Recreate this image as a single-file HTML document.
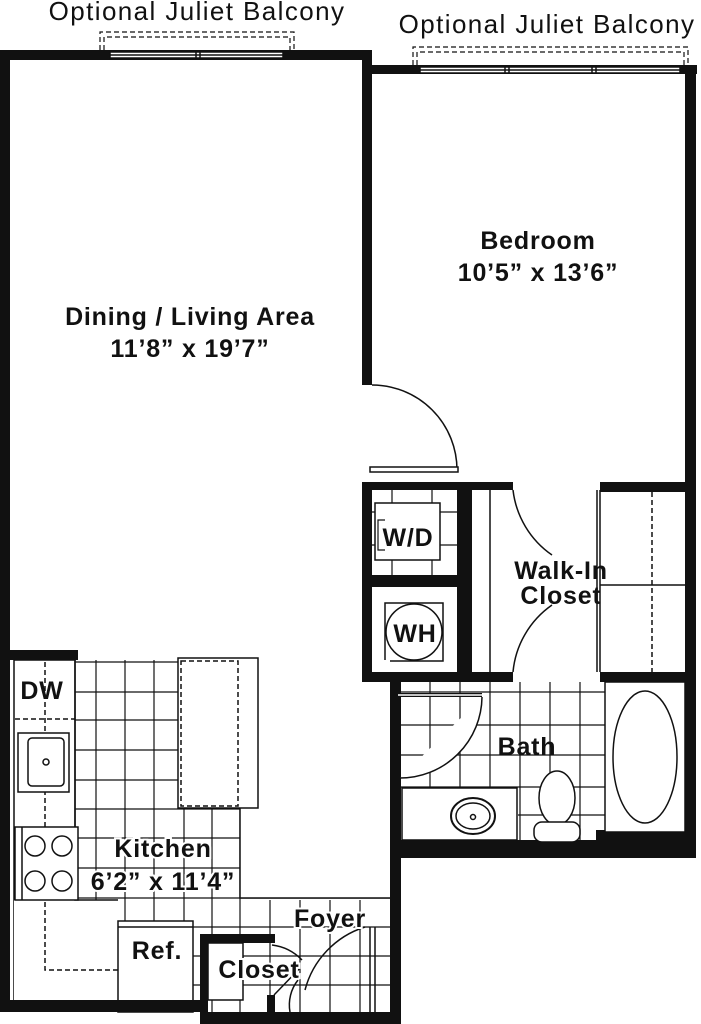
<!DOCTYPE html>
<html><head><meta charset="utf-8"><style>
html,body{margin:0;padding:0;background:#fff}
svg{display:block}
text{font-family:"Liberation Sans",sans-serif;fill:#111}
.l{font-weight:bold;font-size:25px;text-anchor:middle;letter-spacing:0.8px}
.t{font-size:26px;text-anchor:middle;letter-spacing:1.4px}
</style></head><body>
<svg width="701" height="1024" viewBox="0 0 701 1024" xmlns="http://www.w3.org/2000/svg">
<g fill="none" stroke="#111" stroke-width="1.5">
<g stroke-width="1.2">
<path d="M372 512 H457 M372 545 H457 M392 490 V575 M432 490 V575"/>
</g>
<rect x="375" y="503" width="65" height="57" fill="#fff"/>
<path d="M385 520 H378 V550 H385" stroke-width="1.2"/>
<rect x="385" y="603" width="58" height="58"/>
<circle cx="414" cy="632" r="28"/>
</g>
<g fill="none" stroke="#111" stroke-width="1.5">
<!-- kitchen tiles -->
<g stroke-width="1.2">
<path d="M75 662 H178 M75 692 H178 M75 720 H178 M75 750 H178 M75 780 H178 M75 809 H240 M75 838 H240 M75 868 H240 M75 898 H390 M75 927 H390 M75 956 H390 M75 985 H390"/>
<path d="M96 660 V1000 M125 660 V1000 M154 660 V1000 M184 808 V1012 M212 808 V1012 M240 808 V1012 M270 900 V1012 M300 900 V1012 M330 900 V1012 M360 900 V1012"/>
</g>
<rect x="240" y="660" width="150" height="238" fill="#fff" stroke="none"/>
<path d="M240 808 V898 H390"/>
<rect x="178" y="658" width="80" height="150" fill="#fff"/>
<rect x="181" y="661" width="57" height="145" stroke-dasharray="5,3"/>
<rect x="14" y="660" width="61" height="340" fill="#fff"/>
<rect x="14" y="900" width="104" height="100" fill="#fff" stroke="none"/>
<path d="M75 660 V900 H118"/>
<path d="M45 662 V970 H193 M15 719 H75" stroke-dasharray="5,3"/>
<rect x="18" y="733" width="51" height="59" fill="#fff"/>
<rect x="28" y="738" width="36" height="48" rx="4"/>
<circle cx="46" cy="762" r="3"/>
<rect x="15" y="827" width="63" height="73" fill="#fff"/>
<line x1="22" y1="827" x2="22" y2="900"/>
<circle cx="35" cy="846" r="10"/><circle cx="62" cy="846" r="10"/><circle cx="35" cy="881" r="10"/><circle cx="62" cy="881" r="10"/>
<rect x="118" y="921" width="75" height="91" fill="#fff"/>
<line x1="118" y1="927" x2="193" y2="927"/>
<rect x="208" y="943" width="35" height="57" fill="#fff"/>
<path d="M365 927 A90 90 0 0 0 305 990"/>
<path d="M272 945 A50 50 0 0 1 302 960"/>
<line x1="274" y1="995" x2="300" y2="968"/>
<line x1="370" y1="927" x2="370" y2="1012"/><line x1="375" y1="927" x2="375" y2="1012"/>
<path d="M290 1012 A40 40 0 0 1 298 980"/>
</g>
<g fill="#111">
<rect x="0" y="50" width="372" height="10"/>
<rect x="0" y="50" width="10" height="962"/>
<rect x="362" y="50" width="10" height="335"/>
<rect x="362" y="65" width="335" height="9"/>
<rect x="685" y="65" width="11" height="790"/>
<rect x="0" y="650" width="78" height="10"/>
<rect x="0" y="1000" width="205" height="12"/>
<rect x="200" y="934" width="75" height="9"/>
<rect x="200" y="934" width="8" height="90"/>
<rect x="267" y="995" width="8" height="29"/>
<rect x="200" y="1012" width="200" height="12"/>
<rect x="390" y="672" width="11" height="352"/>
<rect x="400" y="840" width="296" height="18"/>
<rect x="362" y="482" width="151" height="8"/>
<rect x="362" y="482" width="10" height="200"/>
<rect x="457" y="482" width="15" height="200"/>
<rect x="362" y="575" width="95" height="12"/>
<rect x="362" y="672" width="151" height="10"/>
<rect x="600" y="482" width="85" height="10"/>
<rect x="600" y="672" width="85" height="10"/>
<rect x="596" y="830" width="100" height="12"/>
</g>
<g fill="none" stroke="#111" stroke-width="1.5">
<rect x="110" y="52" width="173" height="6" fill="#fff"/>
<line x1="110" y1="55" x2="283" y2="55"/><line x1="196" y1="52" x2="196" y2="58"/><line x1="200" y1="52" x2="200" y2="58"/>
<rect x="420" y="67" width="260" height="6" fill="#fff"/>
<line x1="420" y1="70" x2="680" y2="70"/><line x1="505" y1="67" x2="505" y2="73"/><line x1="509" y1="67" x2="509" y2="73"/><line x1="592" y1="67" x2="592" y2="73"/><line x1="596" y1="67" x2="596" y2="73"/>
<g stroke-dasharray="5,3" stroke-width="1.2">
<path d="M100 50 V32 H294 V50"/><path d="M104 50 V37 H290 V50"/>
<path d="M413 65 V47 H688 V65"/><path d="M417 65 V52 H684 V65"/>
</g>
<path d="M372 385 A85 85 0 0 1 457 470"/>
<rect x="370" y="467" width="88" height="5" fill="#fff"/>
<line x1="490" y1="490" x2="490" y2="672"/>
<line x1="597" y1="490" x2="597" y2="672"/><line x1="600" y1="490" x2="600" y2="672"/>
<line x1="652" y1="492" x2="652" y2="672" stroke-dasharray="5,3"/>
<line x1="600" y1="585" x2="685" y2="585"/>
<path d="M513 490 A92 92 0 0 0 552 555"/>
<path d="M513 672 A92 92 0 0 1 552 605"/>
<g stroke-width="1.2">
<path d="M401 692 H605 M401 725 H605 M401 755 H605 M401 787 H605 M430 682 V787 M460 682 V787 M490 682 V787 M520 682 V840 M550 682 V840 M580 682 V840 M518 815 H605"/>
</g>
<line x1="398" y1="695" x2="482" y2="695" stroke-width="4"/>
<line x1="398" y1="695" x2="482" y2="695" stroke="#fff" stroke-width="1.5"/>
<path d="M482 697 A82 82 0 0 1 400 778" fill="#fff"/>
<rect x="605" y="682" width="80" height="150" fill="#fff"/>
<ellipse cx="645" cy="757" rx="32" ry="66"/>
<rect x="402" y="788" width="115" height="52" fill="#fff"/>
<ellipse cx="473" cy="816" rx="22" ry="18" stroke-width="2"/>
<ellipse cx="473" cy="816" rx="17" ry="13"/>
<circle cx="473" cy="817" r="2.5"/>
<ellipse cx="557" cy="798" rx="18" ry="27" fill="#fff"/>
<rect x="534" y="822" width="46" height="20" rx="8" fill="#fff"/>
</g>
<text class="t" x="197" y="20">Optional Juliet Balcony</text>
<text class="t" x="547" y="33">Optional Juliet Balcony</text>
<text class="l" x="538" y="249">Bedroom</text>
<text class="l" x="538" y="281">10’5” x 13’6”</text>
<text class="l" x="190" y="325">Dining / Living Area</text>
<text class="l" x="190" y="357">11’8” x 19’7”</text>
<text class="l" x="408" y="546">W/D</text>
<text class="l" x="415" y="642">WH</text>
<text class="l" x="561" y="579">Walk-In</text>
<text class="l" x="561" y="604">Closet</text>
<text class="l" x="527" y="755">Bath</text>
<text class="l" x="42" y="699">DW</text>
<text class="l" x="163" y="857" style="paint-order:stroke;stroke:#fff;stroke-width:4px">Kitchen</text>
<text class="l" x="163" y="890" style="paint-order:stroke;stroke:#fff;stroke-width:4px">6’2” x 11’4”</text>
<text class="l" x="157" y="959">Ref.</text>
<text class="l" x="330" y="927" style="paint-order:stroke;stroke:#fff;stroke-width:4px">Foyer</text>
<text class="l" x="259" y="978" style="paint-order:stroke;stroke:#fff;stroke-width:4px">Closet</text>
</svg>
</body></html>
